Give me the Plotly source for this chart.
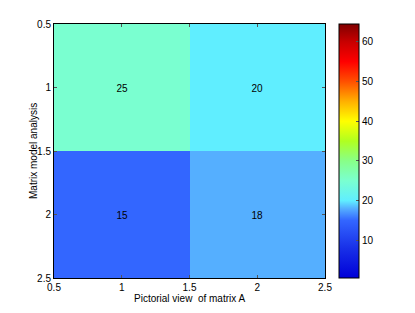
import plotly.graph_objects as go

cols = [1, 2]
rows = [1, 2]
values = [[25, 20], [15, 18]]
cb_ticks = [10, 20, 30, 40, 50, 60]
x_title = "Pictorial view\u00a0 of matrix A"
y_title = "Matrix model analysis"
zmin, zmax = 0.5, 64.5

def f(v):
    return (v - zmin) / (zmax - zmin)

colorscale = [
    [0.0, "#0000D8"],
    [f(8), "#1830E8"],
    [f(15), "#3366FF"],
    [f(18), "#55AFFF"],
    [f(20), "#60EEFF"],
    [f(25), "#7AFFD0"],
    [f(30), "#88FF88"],
    [f(35), "#B0FF20"],
    [f(40), "#FFFF00"],
    [f(45), "#FFB000"],
    [f(50), "#FF5000"],
    [f(55), "#FF0000"],
    [f(60), "#C80000"],
    [1.0, "#800000"],
]

font = dict(family="Liberation Sans, Arial, Helvetica, sans-serif", size=10, color="#000000")

fig = go.Figure(go.Heatmap(
    x=cols, y=rows, z=values,
    zmin=zmin, zmax=zmax, colorscale=colorscale,
    texttemplate="%{z}", textfont=dict(size=10, color="#000000"),
    hoverinfo="skip",
    colorbar=dict(
        x=(339 - 54) / 271, xanchor="left", xpad=0, ypad=0,
        y=0.5, yanchor="middle", len=1, lenmode="fraction",
        thickness=20, outlinewidth=1, outlinecolor="#000000",
        tickvals=cb_ticks, ticks="inside", ticklen=3, tickcolor="#555555",
        tickfont=font,
    ),
))

axis_common = dict(
    showline=True, linecolor="#000000", linewidth=1, mirror="ticks",
    ticks="inside", ticklen=3, tickcolor="#555555",
    showgrid=False, zeroline=False, tickfont=font, automargin=False,
    tickvals=[0.5, 1, 1.5, 2, 2.5], ticktext=["0.5", "1", "1.5", "2", "2.5"],
)

fig.update_layout(
    width=415, height=313,
    margin=dict(l=54, r=90, t=24, b=35, autoexpand=False),
    paper_bgcolor="#FFFFFF", plot_bgcolor="#FFFFFF",
    font=font,
    xaxis=dict(range=[0.5, 2.5], **axis_common),
    yaxis=dict(range=[2.5, 0.5], **axis_common),
    annotations=[
        dict(text=x_title, xref="paper", yref="paper", x=0.5, y=(278 - 298) / 254,
             xanchor="center", yanchor="middle", showarrow=False, font=font),
        dict(text=y_title, xref="paper", yref="paper", x=(33 - 54) / 271, y=0.5,
             xanchor="center", yanchor="middle", textangle=-90, showarrow=False, font=font),
    ],
)

fig.write_html("out.html", config={"displayModeBar": False},
               post_script="document.body.style.margin='0';document.body.style.overflow='hidden';")
